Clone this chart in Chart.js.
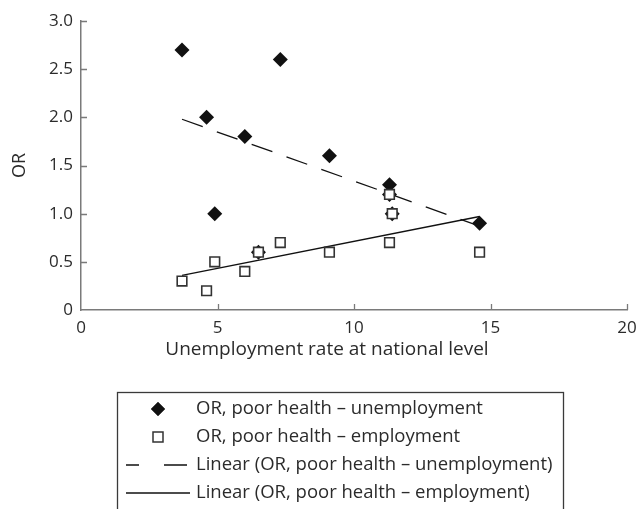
<!DOCTYPE html>
<html>
<head>
<meta charset="utf-8">
<style>
  html, body { margin: 0; padding: 0; background: #ffffff; }
  #wrap { width: 639px; height: 509px; position: relative; }
</style>
<script src="https://cdn.jsdelivr.net/npm/chart.js@4.4.1/dist/chart.umd.min.js"></script>
</head>
<body>
<div id="wrap"><canvas id="c" width="639" height="509"></canvas></div>
<script>
// ---- data ----
const unemploymentRate = [3.7, 4.6, 4.9, 6.0, 6.5, 7.3, 9.1, 11.3, 11.3, 11.4, 14.6];
const orUnemployment   = [2.7, 2.0, 1.0, 1.8, 0.6, 2.6, 1.6, 1.3, 1.2, 1.0, 0.9];
const orEmployment     = [0.3, 0.2, 0.5, 0.4, 0.6, 0.7, 0.6, 0.7, 1.2, 1.0, 0.6];
// linear trend lines (end points)
const trendX            = [3.7, 14.6];
const trendUnemployment = [1.98, 0.87];
const trendEmployment   = [0.36, 0.97];
// tick labels
const xTickLabels = ['0', '5', '10', '15', '20'];
const yTickLabels = ['0', '0.5', '1.0', '1.5', '2.0', '2.5', '3.0'];
const seriesNames = [
  'OR, poor health \u2013 unemployment',
  'OR, poor health \u2013 employment',
  'Linear (OR, poor health \u2013 unemployment)',
  'Linear (OR, poor health \u2013 employment)'
];
const xTitle = 'Unemployment rate at national level';
const yTitle = 'OR';

const FONT = "'Open Sans', 'Noto Sans', sans-serif";
const TEXT = '#2b2b2b';
const AXIS = '#7a7a7a';

function pts(xs, ys) { return xs.map((x, i) => ({ x: x, y: ys[i] })); }

const innerTicks = {
  id: 'innerTicks',
  afterDatasetsDraw(chart) {
    const ctx = chart.ctx;
    const xs = chart.scales.x, ys = chart.scales.y;
    ctx.save();
    ctx.strokeStyle = AXIS;
    ctx.lineWidth = 1.3;
    ctx.beginPath();
    ys.ticks.forEach(t => {
      if (t.value === 0) return;
      const p = Math.round(ys.getPixelForValue(t.value)) + 0.5;
      ctx.moveTo(xs.left, p); ctx.lineTo(xs.left + 6, p);
    });
    xs.ticks.forEach(t => {
      if (t.value === 0) return;
      const p = Math.round(xs.getPixelForValue(t.value)) + 0.5;
      ctx.moveTo(p, ys.bottom); ctx.lineTo(p, ys.bottom - 6);
    });
    ctx.stroke();
    ctx.restore();
  }
};

const boxLegend = {
  id: 'boxLegend',
  afterDraw(chart) {
    const ctx = chart.ctx;
    const ca = chart.chartArea;
    ctx.save();
    // x axis title
    ctx.fillStyle = TEXT;
    ctx.font = '19px ' + FONT;
    ctx.textAlign = 'center';
    ctx.textBaseline = 'middle';
    ctx.fillText(xTitle, 327, ca.bottom + 40);

    // legend box
    const bx = 117.5, by = 392.5, bw = 446, bh = 130;
    ctx.strokeStyle = '#3a3a3a';
    ctx.lineWidth = 1.3;
    ctx.strokeRect(bx, by, bw, bh);
    const rows = [409, 437, 465, 493];
    const mx = 158;
    // diamond
    Chart.helpers.drawPoint(ctx, { pointStyle: 'rectRot', radius: 7, borderWidth: 0 }, mx, rows[0]);
    ctx.fillStyle = '#111';
    ctx.fill();
    // square
    ctx.beginPath();
    ctx.rect(mx - 5, rows[1] - 5, 10, 10);
    ctx.fillStyle = '#fff';
    ctx.fill();
    ctx.strokeStyle = '#333';
    ctx.lineWidth = 1.5;
    ctx.stroke();
    // dashed sample
    ctx.strokeStyle = '#111';
    ctx.lineWidth = 1.3;
    ctx.beginPath();
    ctx.moveTo(126, rows[2]); ctx.lineTo(139, rows[2]);
    ctx.moveTo(164, rows[2]); ctx.lineTo(187, rows[2]);
    ctx.stroke();
    // solid sample
    ctx.beginPath();
    ctx.moveTo(126, rows[3]); ctx.lineTo(190, rows[3]);
    ctx.stroke();
    // texts
    ctx.fillStyle = TEXT;
    ctx.font = '18.5px ' + FONT;
    ctx.textAlign = 'left';
    ctx.textBaseline = 'middle';
    seriesNames.forEach((s, i) => ctx.fillText(s, 196, rows[i]));
    ctx.restore();
  }
};

new Chart(document.getElementById('c'), {
  type: 'scatter',
  data: {
    datasets: [
      {
        label: seriesNames[1],
        data: pts(unemploymentRate, orEmployment),
        pointStyle: 'rect',
        pointRadius: 6.8,
        pointBackgroundColor: '#ffffff',
        pointBorderColor: '#333333',
        pointBorderWidth: 1.6,
        showLine: false,
        order: 0
      },
      {
        label: seriesNames[0],
        data: pts(unemploymentRate, orUnemployment),
        pointStyle: 'rectRot',
        pointRadius: 7.5,
        pointBackgroundColor: '#111111',
        pointBorderColor: '#111111',
        pointBorderWidth: 0,
        showLine: false,
        order: 1
      },
      {
        label: seriesNames[2],
        data: pts(trendX, trendUnemployment),
        showLine: true,
        borderColor: '#111111',
        borderWidth: 1.3,
        borderDash: [22, 15],
        pointRadius: 0,
        fill: false,
        order: 2
      },
      {
        label: seriesNames[3],
        data: pts(trendX, trendEmployment),
        showLine: true,
        borderColor: '#111111',
        borderWidth: 1.4,
        pointRadius: 0,
        fill: false,
        order: 3
      }
    ]
  },
  options: {
    responsive: false,
    animation: false,
    events: [],
    layout: { padding: { left: 0, top: 21, right: 12, bottom: 139 } },
    plugins: { legend: { display: false }, tooltip: { enabled: false } },
    scales: {
      x: {
        type: 'linear',
        min: 0, max: 20,
        ticks: {
          stepSize: 5,
          padding: 8,
          color: TEXT,
          font: { family: FONT, size: 17 },
          callback: (v) => { const i = xTickLabels.indexOf(String(v)); return i >= 0 ? xTickLabels[i] : ''; }
        },
        grid: { display: false, drawTicks: false },
        border: { display: true, color: AXIS, width: 1.5 },
        afterFit: (s) => { s.height = 60; s.paddingRight = 0; s.paddingLeft = 0; }
      },
      y: {
        type: 'linear',
        min: 0, max: 3,
        ticks: {
          stepSize: 0.5,
          padding: 8,
          color: TEXT,
          font: { family: FONT, size: 17 },
          callback: (v) => yTickLabels[Math.round(v / 0.5)]
        },
        grid: { display: false, drawTicks: false },
        border: { display: true, color: AXIS, width: 1.5 },
        title: { display: true, text: yTitle, color: TEXT, font: { family: FONT, size: 18 }, padding: { top: 9, bottom: 0 } },
        afterFit: (s) => { s.width = 81; }
      }
    }
  },
  plugins: [innerTicks, boxLegend]
});
</script>
</body>
</html>
